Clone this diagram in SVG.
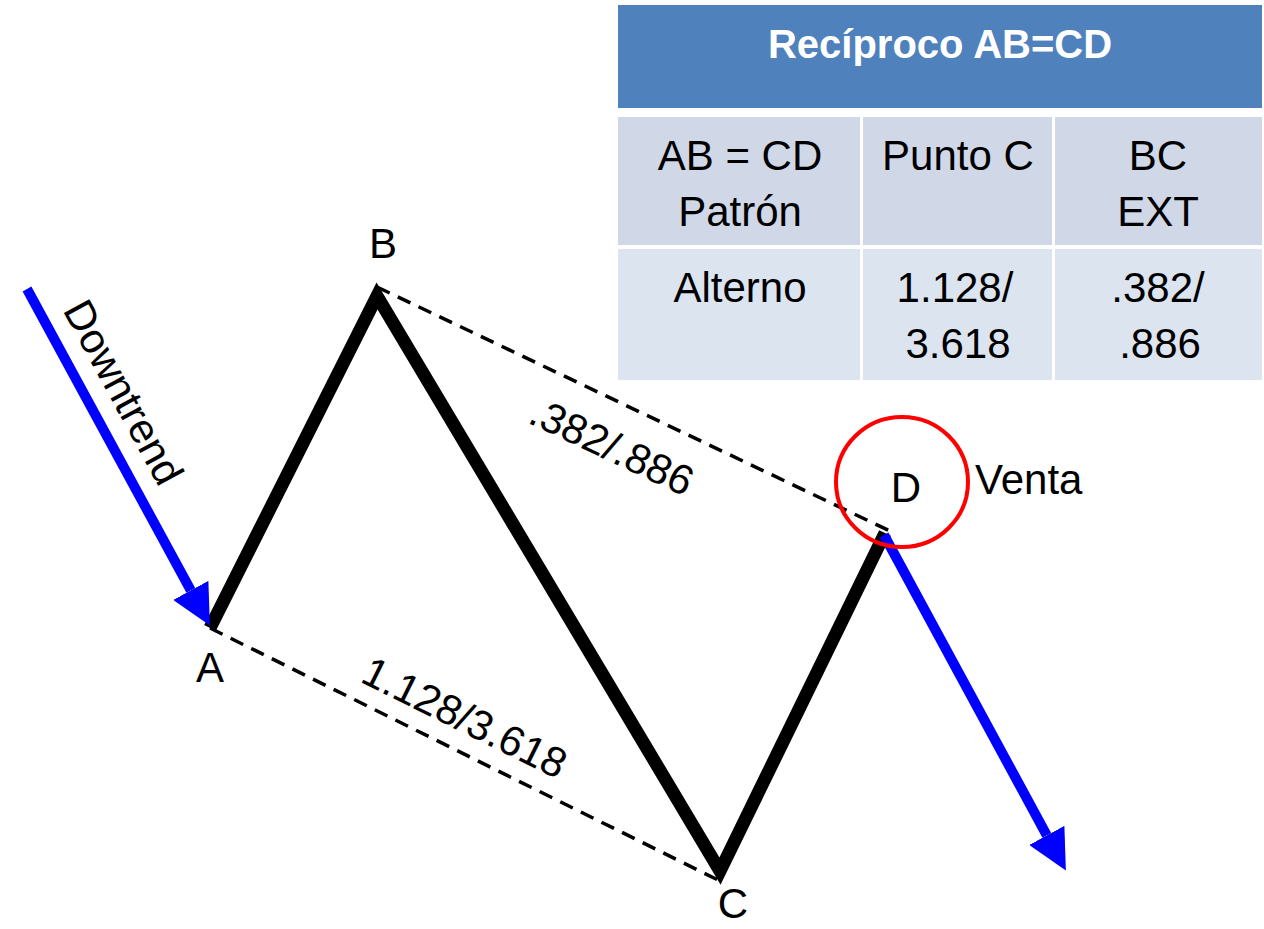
<svg xmlns="http://www.w3.org/2000/svg" width="1264" height="929" viewBox="0 0 1264 929">
<style>
text{font-family:"Liberation Sans",Arial,sans-serif;fill:#000}
.lbl{font-size:42px}
.cell{font-size:42px;text-anchor:middle}
.hdr{font-size:40px;font-weight:bold;fill:#fff;text-anchor:middle}
.zig{fill:none;stroke:#000;stroke-width:13;stroke-linejoin:miter;stroke-miterlimit:10}
.dash{fill:none;stroke:#000;stroke-width:3.5;stroke-dasharray:14 9}
.blue{fill:none;stroke:#0000FF;stroke-width:10}
</style>
<defs>
<marker id="ah" markerUnits="userSpaceOnUse" markerWidth="40" markerHeight="40" viewBox="0 0 36 36" refX="0" refY="18" orient="auto">
<path d="M0,0 L36,18 L0,36 z" fill="#0000FF"/>
</marker>
</defs>
<g id="table">
<rect x="618" y="5" width="644" height="103" fill="#4F81BD"/>
<text class="hdr" x="940" y="58">Recíproco AB=CD</text>
<rect x="618" y="117" width="242" height="128" fill="#D0D8E8"/>
<rect x="863" y="117" width="189" height="128" fill="#D0D8E8"/>
<rect x="1055" y="117" width="207" height="128" fill="#D0D8E8"/>
<rect x="618" y="249" width="242" height="131" fill="#DCE4F0"/>
<rect x="863" y="249" width="189" height="131" fill="#DCE4F0"/>
<rect x="1055" y="249" width="207" height="131" fill="#DCE4F0"/>
<text class="cell" x="740" y="170">AB = CD</text>
<text class="cell" x="740" y="226">Patrón</text>
<text class="cell" x="958" y="170">Punto C</text>
<text class="cell" x="1158" y="170">BC</text>
<text class="cell" x="1158" y="226">EXT</text>
<text class="cell" x="740" y="302">Alterno</text>
<text class="cell" x="955" y="302">1.128/</text>
<text class="cell" x="958" y="358">3.618</text>
<text class="cell" x="1158" y="302">.382/</text>
<text class="cell" x="1160" y="358">.886</text>
</g>
<g id="connectors">
<line class="dash" x1="377" y1="287" x2="890" y2="531"/>
<line class="dash" x1="210" y1="628" x2="722" y2="882"/>
<polyline class="zig" points="210,628 377,296 720,871 885,533"/>
<line class="blue" x1="27" y1="289" x2="190.8" y2="590.4" marker-end="url(#ah)"/>
<line class="blue" x1="884" y1="535" x2="1046.8" y2="835.4" marker-end="url(#ah)"/>
</g>
<g id="circleD">
<ellipse cx="902" cy="482" rx="66" ry="65" fill="none" stroke="#FF0000" stroke-width="4"/>
</g>
<g id="labels">
<text class="lbl" x="383" y="258" text-anchor="middle">B</text>
<text class="lbl" x="210" y="682" text-anchor="middle">A</text>
<text class="lbl" x="733" y="918" text-anchor="middle">C</text>
<text class="lbl" x="906" y="502" text-anchor="middle">D</text>
<text class="lbl" x="975" y="494">Venta</text>
<text class="lbl" text-anchor="middle" transform="translate(124,392) rotate(61.4)" y="15">Downtrend</text>
<text class="lbl" text-anchor="middle" transform="translate(612,446) rotate(25.3)" y="15">.382/.886</text>
<text class="lbl" text-anchor="middle" transform="translate(465,717) rotate(26.3)" y="15">1.128/3.618</text>
</g>
</svg>
